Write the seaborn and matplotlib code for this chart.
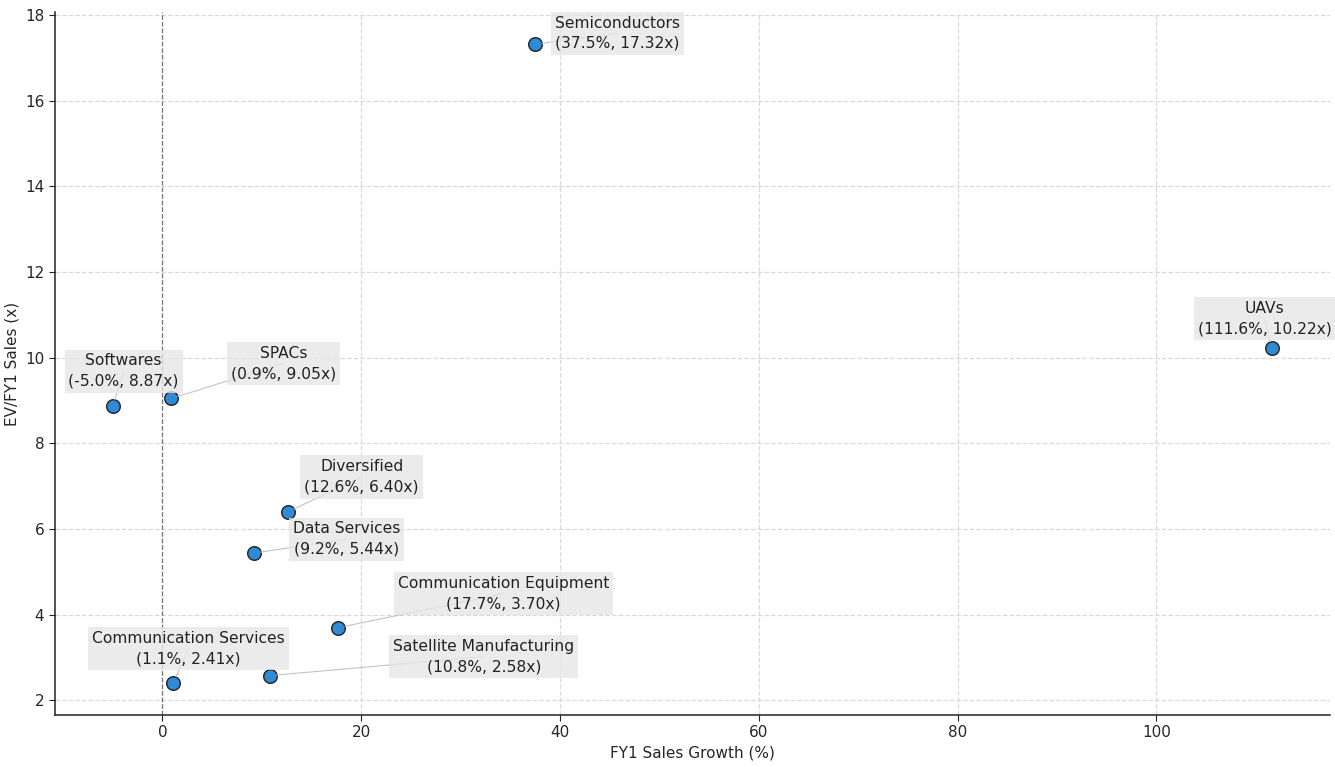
import pandas as pd
import matplotlib.pyplot as plt
import seaborn as sns

sectors = ['Semiconductors', 'UAVs', 'Softwares', 'SPACs', 'Diversified', 'Data Services',
           'Communication Equipment', 'Communication Services', 'Satellite Manufacturing']
sales_growth = [37.5, 111.6, -5.0, 0.9, 12.6, 9.2, 17.7, 1.1, 10.8]
ev_sales = [17.32, 10.22, 8.87, 9.05, 6.40, 5.44, 3.70, 2.41, 2.58]

# label offsets (pixels) from each point
label_dx = [82, -7, 11, 112, 74, 93, 165, 15, 214]
label_dy = [11, 30, 35, 35, 35, 14, 34, 34, 19]

df = pd.DataFrame({'Sector': sectors, 'Growth': sales_growth, 'EV': ev_sales})

sns.set_style('white')
plt.rcParams['font.family'] = ['DejaVu Sans']

fig, ax = plt.subplots(figsize=(13.35, 7.67), dpi=100)
fig.subplots_adjust(left=0.041, right=0.996, bottom=0.068, top=0.984)

ax.grid(True, linestyle='--', color='#d9d9d9', linewidth=0.9)
ax.set_axisbelow(True)
ax.axvline(0, color='#777777', linestyle='--', linewidth=0.9, zorder=1)

sns.scatterplot(data=df, x='Growth', y='EV', ax=ax, s=95, color='#2f8ad8',
                edgecolor='#2b2b2b', linewidth=1.1, zorder=3)

for i, row in df.iterrows():
    ax.annotate(f"{row['Sector']}\n({row['Growth']:.1f}%, {row['EV']:.2f}x)",
                xy=(row['Growth'], row['EV']), xytext=(label_dx[i], label_dy[i]),
                textcoords='offset pixels', ha='center', va='center', fontsize=11.2,
                color='#222222', linespacing=1.45,
                bbox=dict(boxstyle='square,pad=0.25', facecolor='#e6e6e6', edgecolor='none', alpha=0.8),
                arrowprops=dict(arrowstyle='-', color='#c4c4c4', lw=0.8, shrinkA=0, shrinkB=5,
                                patchA=None, relpos=(0.5, 0.5)),
                zorder=4)

ax.set_xlabel('FY1 Sales Growth (%)', fontsize=11)
ax.set_ylabel('EV/FY1 Sales (x)', fontsize=11)
ax.tick_params(axis='both', labelsize=11, length=4, left=True, bottom=True, color='#222222')
sns.despine(ax=ax)
for sp in ['left', 'bottom']:
    ax.spines[sp].set_color('#222222')
    ax.spines[sp].set_linewidth(1.1)

fig.savefig('out.png', dpi=100)
